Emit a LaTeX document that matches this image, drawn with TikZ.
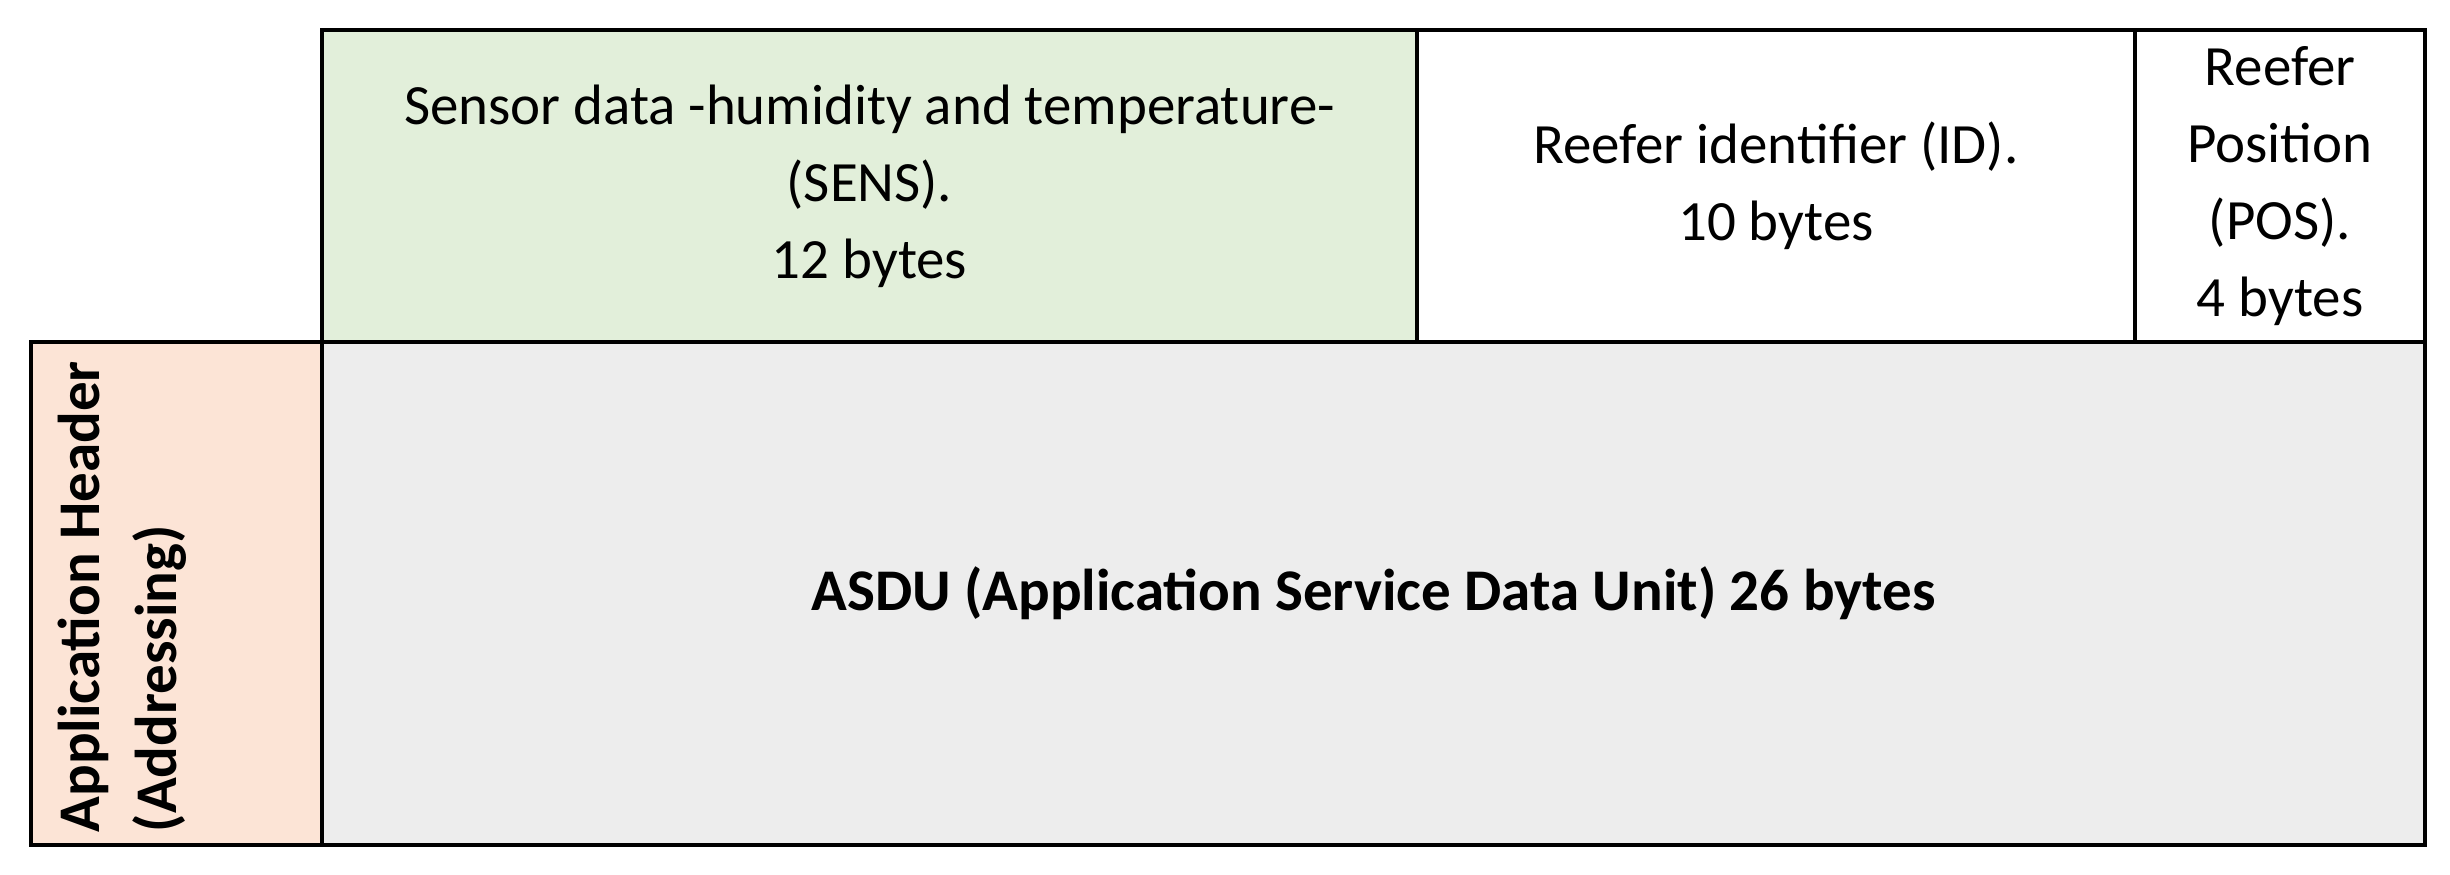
\documentclass[tikz,border=0pt]{standalone}
\usepackage{fontspec}
\setmainfont{Carlito}
\usepackage{xcolor}
\usetikzlibrary{calc}
\definecolor{sensgreen}{HTML}{E2EFDA}
\definecolor{hdrpink}{HTML}{FCE4D6}
\definecolor{asdugray}{HTML}{EDEDED}
\tikzset{
  grid line/.style={draw=black, line width=1.2pt, line cap=rect},
  cell text/.style={align=center, inner sep=0pt, font=\fontsize{16.2}{21.9}\selectfont},
  bold text/.style={cell text, font=\fontsize{16.8}{21.9}\selectfont\bfseries}
}

\begin{document}
\begin{tikzpicture} [scale=1]
\useasboundingbox (0,0) rectangle (24.5,8.75);

\coordinate (a) at (3.22,8.45);
\coordinate (b) at (14.17,8.45);
\coordinate (c) at (21.35,8.45);
\coordinate (d) at (24.25,8.45);
\coordinate (e) at (0.31,5.33);
\coordinate (f) at (3.22,5.33);
\coordinate (g) at (14.17,5.33);
\coordinate (h) at (21.35,5.33);
\coordinate (i) at (24.25,5.33);
\coordinate (j) at (0.31,0.30);
\coordinate (k) at (3.22,0.30);
\coordinate (l) at (24.25,0.30);

\fill[sensgreen] (a) rectangle (g);
\fill[hdrpink] (e) rectangle (k);
\fill[asdugray] (f) rectangle (l);

\draw[grid line] (a)--(d)--(l)--(j)--(e)--(f)--cycle;
\draw[grid line] (b)--(g);
\draw[grid line] (c)--(h);
\draw[grid line] (f)--(i);
\draw[grid line] (f)--(k);

\node[cell text] (sens) at ($(a)!0.5!(g)$) {Sensor data -humidity and temperature-\\(SENS).\\12 bytes};
\node[cell text] (id) at ($(b)!0.5!(h)$) {Reefer identifier (ID).\\10 bytes};
\node[cell text] (pos) at ($(c)!0.5!(i)$) {Reefer\\Position\\(POS).\\4 bytes};
\node[bold text] (asdu) at ($(f)!0.5!(l)$) {ASDU (Application Service Data Unit) 26 bytes};
\node[bold text, align=left, rotate=90, anchor=north west] (hdr) at (0.57,0.42) {Application Header\\(Addressing)};

\end{tikzpicture}
\end{document}
